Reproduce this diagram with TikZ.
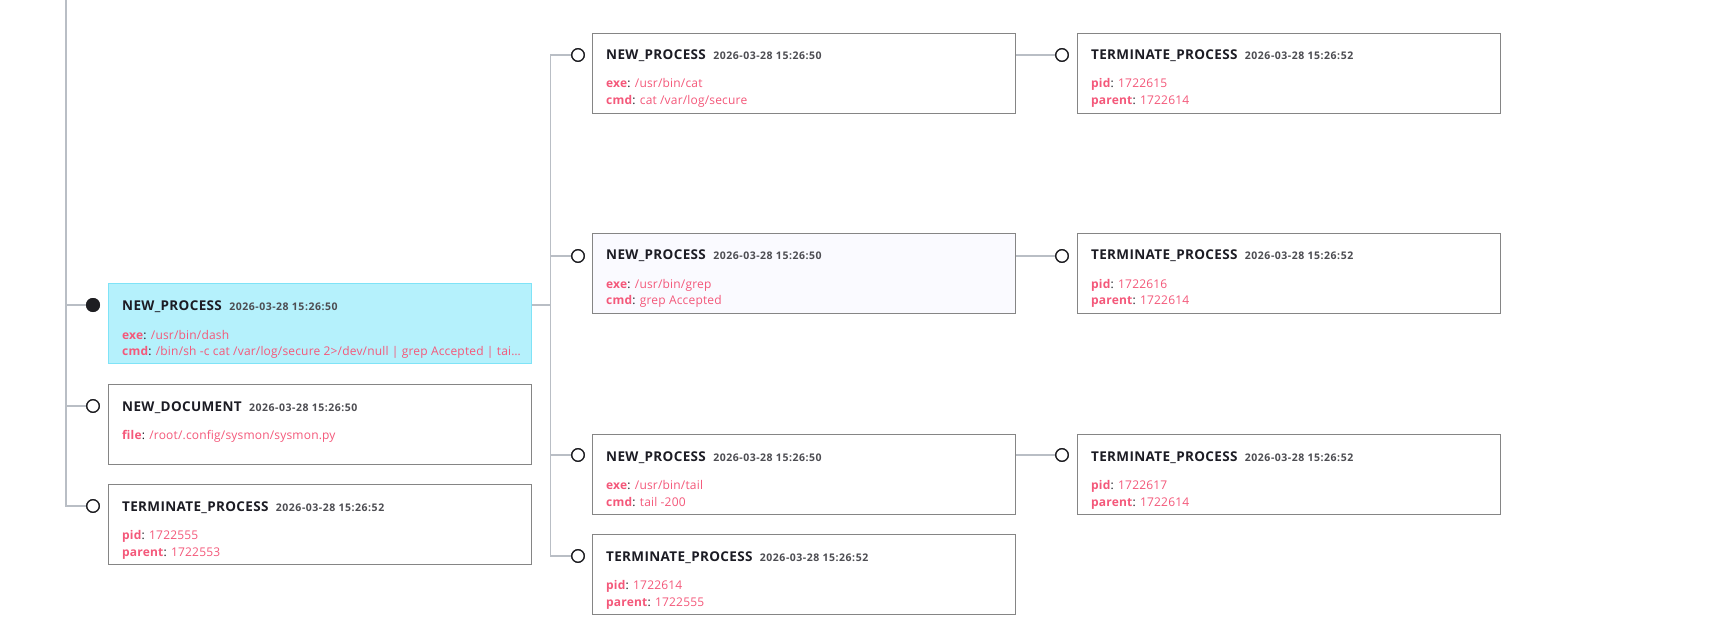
\documentclass[tikz,border=0pt]{standalone}
\usepackage{fontspec}
\setmainfont{Open Sans}
\newfontfamily\ttlfont{Open Sans}[LetterSpace=2.5]
\newfontfamily\tsfont{Open Sans}[LetterSpace=5]
\newfontfamily\bdfont{Open Sans}[LetterSpace=1.5]
\definecolor{boxgray}{HTML}{858585}
\definecolor{hifill}{HTML}{B5F1FC}
\definecolor{hidraw}{HTML}{7FE3F7}
\definecolor{ringc}{HTML}{1E1E22}
\definecolor{connc}{HTML}{B9BEC5}
\definecolor{ttlc}{HTML}{1C1C24}
\definecolor{tsc}{HTML}{4D4D52}
\definecolor{pinkc}{HTML}{F4587A}
\newcommand{\kvpair}[2]{\textbf{#1}\textcolor{ttlc}{:} #2}
\begin{document}
\begin{tikzpicture}[x=1pt,y=-1pt,
  box/.style={draw=boxgray,line width=1.2pt,minimum width=423pt,minimum height=80pt,anchor=north west,inner sep=0pt,fill=white},
  hibox/.style={box,fill=hifill,draw=hidraw},
  ring/.style={circle,draw=ringc,line width=1.3pt,fill=white,minimum size=12.5pt,inner sep=0pt},
  dot/.style={circle,fill=ringc,minimum size=14pt,inner sep=0pt},
  conn/.style={draw=connc,line width=1.1pt},
  ttl/.style={anchor=base west,inner sep=0pt,font=\ttlfont\fontsize{13.5}{16}\selectfont\bfseries,text=ttlc},
  tstamp/.style={anchor=base west,inner sep=0pt,font=\tsfont\fontsize{10.5}{12}\selectfont\bfseries,text=tsc},
  bodytxt/.style={anchor=base west,inner sep=0pt,font=\bdfont\fontsize{12}{14}\selectfont,text=pinkc}
]
\useasboundingbox (0,0) rectangle (1722,631);

% ---------- left column ----------
\node[hibox] (b1) at (108,283) {};
\node[box] (b2) at (108,384) {};
\node[box] (b3) at (108,484) {};
\node[dot] (c1) at (93,305) {};
\node[ring] (c2) at (93,406) {};
\node[ring] (c3) at (93,506) {};
\coordinate (ltop) at (66,0);

% ---------- middle column ----------
\node[box] (m1) at (592,33) {};
\node[box,fill=white!98!blue] (m2) at (592,233) {};
\node[box] (m3) at (592,434) {};
\node[box] (m4) at (592,534) {};
\node[ring] (mc1) at (578,55) {};
\node[ring] (mc2) at (578,256) {};
\node[ring] (mc3) at (578,455) {};
\node[ring] (mc4) at (578,556) {};
\coordinate (mx) at (550.5,0);

% ---------- right column ----------
\node[box] (r1) at (1077,33) {};
\node[box] (r2) at (1077,233) {};
\node[box] (r3) at (1077,434) {};
\node[ring] (rc1) at (1062,55) {};
\node[ring] (rc2) at (1062,256) {};
\node[ring] (rc3) at (1062,455) {};

% ---------- connectors ----------
\draw[conn] (ltop) -- (ltop |- c3) -- (c3.west);
\draw[conn] (c1.west -| ltop) -- (c1.west);
\draw[conn] (c2.west -| ltop) -- (c2.west);
\draw[conn] (b1.east |- c1) -- (c1 -| mx);
\draw[conn] (mc1.west) -- (mc1 -| mx) -- (mc4 -| mx) -- (mc4.west);
\draw[conn] (mc2 -| mx) -- (mc2.west);
\draw[conn] (mc3 -| mx) -- (mc3.west);
\draw[conn] (m1.east |- mc1) -- (rc1.west);
\draw[conn] (m2.east |- mc2) -- (rc2.west);
\draw[conn] (m3.east |- mc3) -- (rc3.west);
% redraw markers over lines
\node[dot] at (c1) {};
\foreach \n in {c2,c3,mc1,mc2,mc3,mc4,rc1,rc2,rc3} \node[ring] at (\n) {};

% ---------- texts ----------
% b1
\node[ttl] (b1t) at ([shift={(14pt,-27.5pt)}]b1.north west) {NEW\_PROCESS};
\node[tstamp,xshift=7pt] (b1s) at (b1t.base east) {2026-03-28 15:26:50};
\node[bodytxt] (b1a) at ([shift={(14pt,-56pt)}]b1.north west) {\kvpair{exe}{/usr/bin/dash}};
\node[bodytxt] (b1b) at ([shift={(14pt,-72.5pt)}]b1.north west) {\kvpair{cmd}{/bin/sh -c cat /var/log/secure 2>/dev/null | grep Accepted | tai…}};
% b2
\node[ttl] (b2t) at ([shift={(14pt,-27pt)}]b2.north west) {NEW\_DOCUMENT};
\node[tstamp,xshift=7pt] (b2s) at (b2t.base east) {2026-03-28 15:26:50};
\node[bodytxt] (b2a) at ([shift={(14pt,-55pt)}]b2.north west) {\kvpair{file}{/root/.config/sysmon/sysmon.py}};
% b3
\node[ttl] (b3t) at ([shift={(14pt,-27pt)}]b3.north west) {TERMINATE\_PROCESS};
\node[tstamp,xshift=7pt] (b3s) at (b3t.base east) {2026-03-28 15:26:52};
\node[bodytxt] (b3a) at ([shift={(14pt,-55pt)}]b3.north west) {\kvpair{pid}{1722555}};
\node[bodytxt] (b3b) at ([shift={(14pt,-72pt)}]b3.north west) {\kvpair{parent}{1722553}};
% m1
\node[ttl] (m1t) at ([shift={(14pt,-27pt)}]m1.north west) {NEW\_PROCESS};
\node[tstamp,xshift=7pt] (m1s) at (m1t.base east) {2026-03-28 15:26:50};
\node[bodytxt] (m1a) at ([shift={(14pt,-55pt)}]m1.north west) {\kvpair{exe}{/usr/bin/cat}};
\node[bodytxt] (m1b) at ([shift={(14pt,-72pt)}]m1.north west) {\kvpair{cmd}{cat /var/log/secure}};
% m2
\node[ttl] (m2t) at ([shift={(14pt,-27pt)}]m2.north west) {NEW\_PROCESS};
\node[tstamp,xshift=7pt] (m2s) at (m2t.base east) {2026-03-28 15:26:50};
\node[bodytxt] (m2a) at ([shift={(14pt,-55pt)}]m2.north west) {\kvpair{exe}{/usr/bin/grep}};
\node[bodytxt] (m2b) at ([shift={(14pt,-72pt)}]m2.north west) {\kvpair{cmd}{grep Accepted}};
% m3
\node[ttl] (m3t) at ([shift={(14pt,-27pt)}]m3.north west) {NEW\_PROCESS};
\node[tstamp,xshift=7pt] (m3s) at (m3t.base east) {2026-03-28 15:26:50};
\node[bodytxt] (m3a) at ([shift={(14pt,-55pt)}]m3.north west) {\kvpair{exe}{/usr/bin/tail}};
\node[bodytxt] (m3b) at ([shift={(14pt,-72pt)}]m3.north west) {\kvpair{cmd}{tail -200}};
% m4
\node[ttl] (m4t) at ([shift={(14pt,-27pt)}]m4.north west) {TERMINATE\_PROCESS};
\node[tstamp,xshift=7pt] (m4s) at (m4t.base east) {2026-03-28 15:26:52};
\node[bodytxt] (m4a) at ([shift={(14pt,-55pt)}]m4.north west) {\kvpair{pid}{1722614}};
\node[bodytxt] (m4b) at ([shift={(14pt,-72pt)}]m4.north west) {\kvpair{parent}{1722555}};
% r1
\node[ttl] (r1t) at ([shift={(14pt,-27pt)}]r1.north west) {TERMINATE\_PROCESS};
\node[tstamp,xshift=7pt] (r1s) at (r1t.base east) {2026-03-28 15:26:52};
\node[bodytxt] (r1a) at ([shift={(14pt,-55pt)}]r1.north west) {\kvpair{pid}{1722615}};
\node[bodytxt] (r1b) at ([shift={(14pt,-72pt)}]r1.north west) {\kvpair{parent}{1722614}};
% r2
\node[ttl] (r2t) at ([shift={(14pt,-27pt)}]r2.north west) {TERMINATE\_PROCESS};
\node[tstamp,xshift=7pt] (r2s) at (r2t.base east) {2026-03-28 15:26:52};
\node[bodytxt] (r2a) at ([shift={(14pt,-55pt)}]r2.north west) {\kvpair{pid}{1722616}};
\node[bodytxt] (r2b) at ([shift={(14pt,-72pt)}]r2.north west) {\kvpair{parent}{1722614}};
% r3
\node[ttl] (r3t) at ([shift={(14pt,-27pt)}]r3.north west) {TERMINATE\_PROCESS};
\node[tstamp,xshift=7pt] (r3s) at (r3t.base east) {2026-03-28 15:26:52};
\node[bodytxt] (r3a) at ([shift={(14pt,-55pt)}]r3.north west) {\kvpair{pid}{1722617}};
\node[bodytxt] (r3b) at ([shift={(14pt,-72pt)}]r3.north west) {\kvpair{parent}{1722614}};
\end{tikzpicture}
\end{document}
